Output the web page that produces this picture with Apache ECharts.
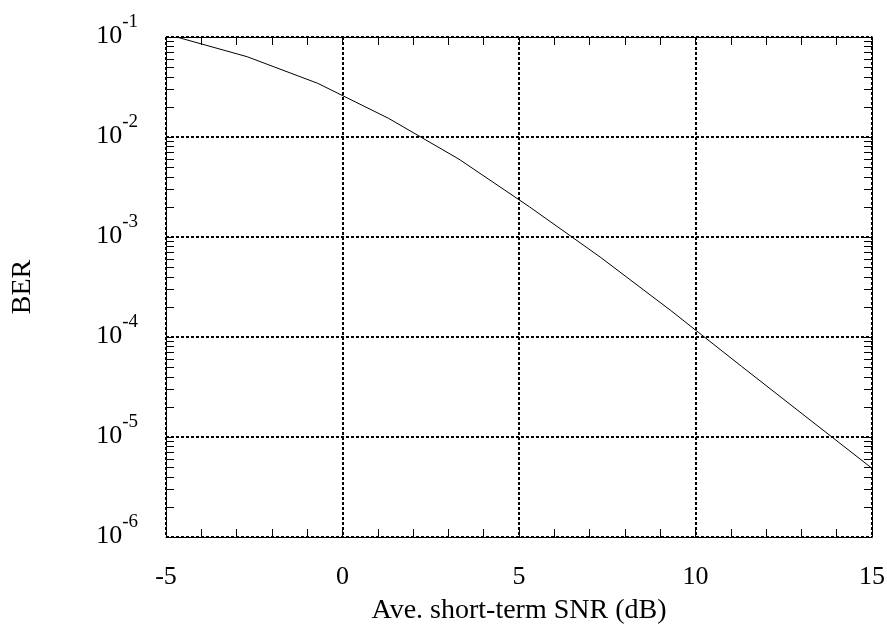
<!DOCTYPE html>
<html>
<head>
<meta charset="utf-8">
<script src="https://cdn.jsdelivr.net/npm/echarts@6/dist/echarts.min.js"></script>
<style>
  html, body { margin: 0; padding: 0; background: #fff; }
  #main { width: 887px; height: 625px; }
</style>
</head>
<body>
<div id="main"></div>
<script>
// SNR (dB) and BER
var snr = [-4.7, -2.7, -0.7, 1.3, 3.3, 5.3, 7.3, 9.3, 11.3, 13.3, 15];
var ber = [0.1, 0.0635, 0.0344, 0.0154, 0.0060, 0.0020, 6.3e-4, 1.84e-4, 5.1e-5, 1.43e-5, 4.86e-6];

var decades = [1e-6, 1e-5, 1e-4, 1e-3, 1e-2, 1e-1];

// minor tick positions on the log axis (1..9 times each decade)
var minorY = [];
for (var d = 0; d < decades.length - 1; d++) {
    for (var m = 1; m <= 9; m++) {
        minorY.push(decades[d] * m);
    }
}
minorY.push(decades[decades.length - 1]);

var font = 'Liberation Serif';
var gridDash = { color: '#000', width: 2, type: [3, 2] };

var points = snr.map(function (x, i) { return [x, ber[i]]; });

// main: labels + dotted decade lines; otherwise only the minor ticks
function yAxisCfg(pos, main) {
    return {
        type: 'log',
        logBase: 10,
        position: pos,
        min: 1e-6,
        max: 1e-1,
        axisLine: { show: true, onZero: false, lineStyle: { color: '#000', width: 1 } },
        axisTick: {
            show: true,
            inside: true,
            length: 8,
            customValues: main ? decades : minorY,
            lineStyle: { color: '#000', width: 1 }
        },
        axisLabel: {
            show: main,
            customValues: decades,
            margin: 28,
            padding: [0, 0, 2, 0],
            formatter: function (v) {
                var e = Math.round(Math.log(v) / Math.LN10);
                return '{b|10}{s|' + e + '}';
            },
            rich: {
                b: { fontFamily: font, fontSize: 26, color: '#000', lineHeight: 46 },
                s: { fontFamily: font, fontSize: 19, color: '#000', verticalAlign: 'top', lineHeight: 18 }
            }
        },
        splitLine: { show: main, lineStyle: gridDash },
        name: main ? 'BER' : '',
        nameLocation: 'middle',
        nameGap: 129,
        nameTextStyle: { fontFamily: font, fontSize: 28, color: '#000' }
    };
}

function xAxisCfg(pos, main) {
    return {
        type: 'value',
        position: pos,
        min: -5,
        max: 15,
        interval: 5,
        axisLine: { show: true, onZero: false, lineStyle: { color: '#000', width: 1 } },
        axisTick: { show: true, inside: true, length: 8, lineStyle: { color: '#000' } },
        minorTick: { show: true, splitNumber: 5, length: 8, lineStyle: { color: '#000' } },
        axisLabel: {
            show: main,
            margin: 27,
            fontFamily: font,
            fontSize: 26,
            color: '#000'
        },
        splitLine: { show: main, lineStyle: gridDash },
        name: main ? 'Ave. short-term SNR (dB)' : '',
        nameLocation: 'middle',
        nameGap: 60,
        nameTextStyle: { fontFamily: font, fontSize: 28, color: '#000' }
    };
}

var option = {
    animation: false,
    backgroundColor: '#fff',
    grid: { left: 166, right: 15, top: 37, bottom: 88, containLabel: false, outerBoundsMode: 'none' },
    xAxis: [xAxisCfg('bottom', true), xAxisCfg('top', false)],
    yAxis: [yAxisCfg('left', true), yAxisCfg('left', false), yAxisCfg('right', false)],
    series: [
        {
            type: 'line',
            data: points,
            xAxisIndex: 0,
            yAxisIndex: 0,
            showSymbol: false,
            clip: true,
            lineStyle: { color: '#000', width: 1 },
            itemStyle: { color: '#000' }
        }
    ]
};

var chart = echarts.init(document.getElementById('main'), null, { renderer: 'canvas' });
chart.setOption(option);
</script>
</body>
</html>
